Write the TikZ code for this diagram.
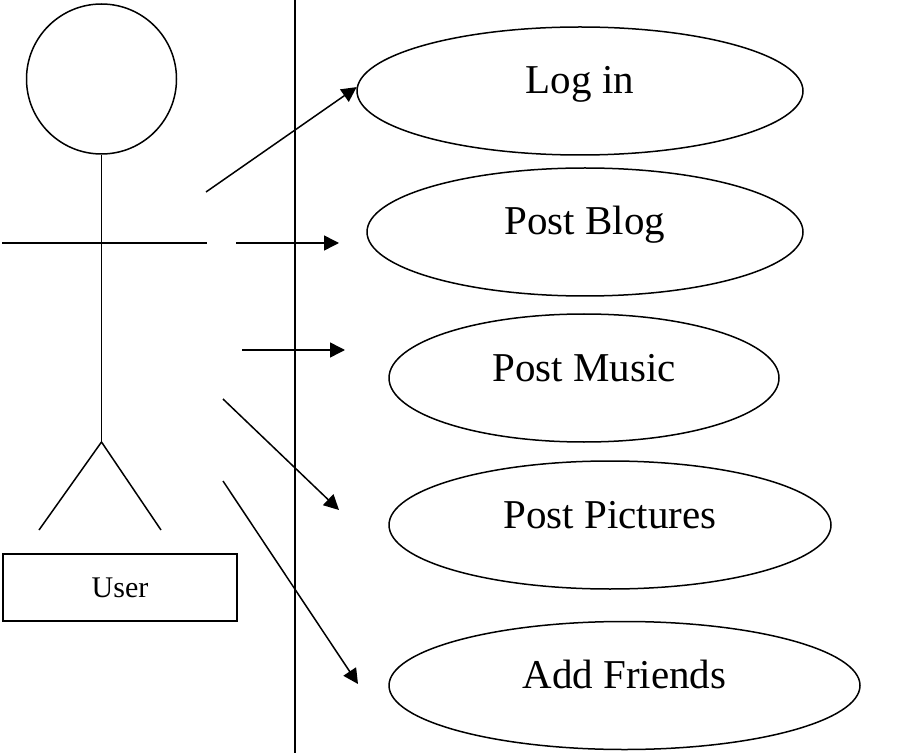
\documentclass[tikz,border=0pt]{standalone}
\usepackage{fontspec}
\setmainfont{Liberation Serif}
\usetikzlibrary{shapes.geometric,arrows.meta}
\begin{document}
\begin{tikzpicture}[x=0.5pt,y=-0.5pt,line width=0.75pt,>={Triangle[length=7.5pt,width=7.5pt]},
   usecase/.style={draw,ellipse,inner sep=0pt,minimum height=64pt,text height=14pt,text depth=11pt,font=\fontsize{20.5}{24}\selectfont}]
   \useasboundingbox (0,0) rectangle (920,753);
   \draw (295,0) -- (295,753);
   % actor
   \draw (101.5,79) circle[radius=37.5pt];
   \draw (101.5,155) -- (101.5,442) (2,243) -- (207,243);
   \draw (39,530) -- (101.5,442) -- (161,530);
   \node[draw,minimum width=117pt,minimum height=33.5pt,font=\fontsize{15}{18}\selectfont] (user) at (120,587.5) {User};
   % use cases
   \node[usecase,minimum width=223pt] (login) at (580,91) {Log in};
   \node[usecase,minimum width=218pt] (blog) at (585,232) {Post Blog};
   \node[usecase,minimum width=195pt] (music) at (584,378) {Post Music};
   \node[usecase,minimum width=221pt] (pictures) at (610,525) {Post Pictures};
   \node[usecase,minimum width=235.5pt] (friends) at (624.5,685.5) {Add Friends};
   % arrows
   \coordinate (s1) at (206,192);
   \coordinate (s2) at (236,243); \coordinate (e2) at (339,243);
   \coordinate (s3) at (242,350); \coordinate (e3) at (345,350);
   \coordinate (s4) at (223,399); \coordinate (e4) at (339,510);
   \coordinate (s5) at (223,481); \coordinate (e5) at (358,684);
   \draw[->] (s1) -- (login.179);
   \draw[->] (s2) -- (e2);
   \draw[->] (s3) -- (e3);
   \draw[->] (s4) -- (e4);
   \draw[->] (s5) -- (e5);
\end{tikzpicture}
\end{document}
